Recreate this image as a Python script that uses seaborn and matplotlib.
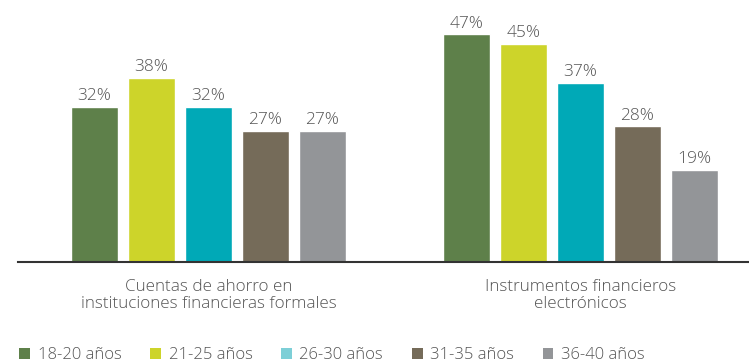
import matplotlib
matplotlib.use("Agg")
import matplotlib.pyplot as plt
import seaborn as sns
import pandas as pd
from matplotlib.patches import Patch

categories = ["Cuentas de ahorro en\ninstituciones financieras formales",
              "Instrumentos financieros\nelectrónicos"]
age_groups = ["18-20 años", "21-25 años", "26-30 años", "31-35 años", "36-40 años"]
values_savings = [32, 38, 32, 27, 27]
values_electronic = [47, 45, 37, 28, 19]

bar_colors = ["#5e804a", "#cdd42a", "#00a9b7", "#756b59", "#939598"]
legend_colors = ["#5e804a", "#cdd42a", "#7dcfd7", "#756b59", "#939598"]
text_color = "#555555"

rows = []
for cat, vals in zip(categories, [values_savings, values_electronic]):
    for age, v in zip(age_groups, vals):
        rows.append({"categoria": cat, "edad": age, "valor": v})
df = pd.DataFrame(rows)

sns.set_style("white")
plt.rcParams["font.family"] = ["Open Sans", "DejaVu Sans"]

fig = plt.figure(figsize=(7.49, 3.62), dpi=100)
ax = fig.add_axes([18 / 749, 100 / 362, (749 - 18) / 749, 262 / 362])

sns.barplot(data=df, x="categoria", y="valor", hue="edad", order=categories,
            hue_order=age_groups, palette=bar_colors, width=0.766, gap=0.175,
            saturation=1, legend=False, ax=ax)

for container in ax.containers:
    ax.bar_label(container, fmt="%d%%", padding=2, fontsize=12.5,
                 color=text_color, fontweight="light")

ax.set_xlim(-0.512, 1.453)
ax.set_ylim(0, 54.1)
ax.set_xlabel("")
ax.set_ylabel("")
ax.set_yticks([])
ax.set_xticks([0, 1])
ax.set_xticklabels(categories, fontsize=12.3, color=text_color,
                   fontweight="light", linespacing=1.15)
ax.tick_params(axis="x", length=0, pad=12)
for side in ["top", "right", "left"]:
    ax.spines[side].set_visible(False)
ax.spines["bottom"].set_color("#333333")
ax.spines["bottom"].set_linewidth(1.5)

handles = [Patch(facecolor=c, edgecolor="none") for c in legend_colors]
fig.legend(handles, age_groups, loc="lower left", bbox_to_anchor=(0.006, -0.045),
           ncol=5, frameon=False, handlelength=0.65,
           handleheight=0.65, handletextpad=0.45, columnspacing=1.72,
           labelcolor=text_color, prop={"weight": "light", "size": 12})

fig.savefig("out.png", dpi=100)
